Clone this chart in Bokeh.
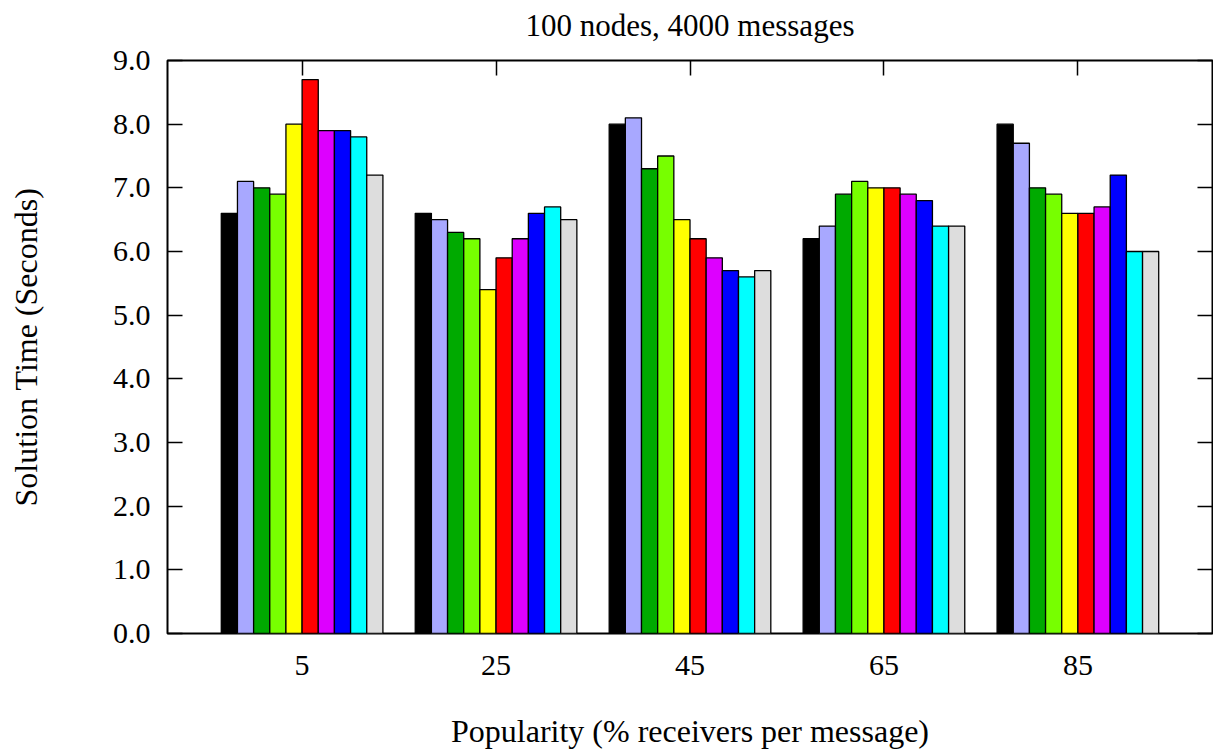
from bokeh.plotting import figure
from bokeh.models import LinearAxis, FixedTicker, PrintfTickFormatter, Range1d, ColumnDataSource
from bokeh.embed import file_html
from bokeh.resources import INLINE

# ---- data ----
title_text = "100 nodes, 4000 messages"
popularity = ["5", "25", "45", "65", "85"]
series_black = [6.6, 6.6, 8.0, 6.2, 8.0]
series_lavender = [7.1, 6.5, 8.1, 6.4, 7.7]
series_green = [7.0, 6.3, 7.3, 6.9, 7.0]
series_lime = [6.9, 6.2, 7.5, 7.1, 6.9]
series_yellow = [8.0, 5.4, 6.5, 7.0, 6.6]
series_red = [8.7, 5.9, 6.2, 7.0, 6.6]
series_magenta = [7.9, 6.2, 5.9, 6.9, 6.7]
series_blue = [7.9, 6.6, 5.7, 6.8, 7.2]
series_cyan = [7.8, 6.7, 5.6, 6.4, 6.0]
series_gray = [7.2, 6.5, 5.7, 6.4, 6.0]
y_ticks = [0, 1, 2, 3, 4, 5, 6, 7, 8, 9]

all_series = [series_black, series_lavender, series_green, series_lime, series_yellow,
              series_red, series_magenta, series_blue, series_cyan, series_gray]
colors = ["#000000", "#a8a8ff", "#00aa00", "#77ff00", "#ffff00",
          "#ff0000", "#dd00ff", "#0000ff", "#00ffff", "#dddddd"]

FONT = "Liberation Serif"
n = len(all_series)
gap = 2
bw = 1.0 / (n + gap)

p = figure(width=1213, height=751, output_backend="svg", toolbar_location=None,
           title=None,
           x_range=Range1d(-0.694, 4.694), y_range=Range1d(0, 9),
           min_border_left=167, min_border_right=1, min_border_top=60, min_border_bottom=118)
p.xgrid.visible = False
p.ygrid.visible = False
p.outline_line_color = "black"
p.outline_line_width = 2
p.background_fill_color = "white"
p.border_fill_color = "white"

for j, (vals, col) in enumerate(zip(all_series, colors)):
    xs = [i + (j - (n - 1) / 2) * bw for i in range(len(popularity))]
    src = ColumnDataSource(dict(x=xs, top=vals))
    p.vbar(x="x", top="top", bottom=0, width=bw, source=src,
           fill_color=col, line_color="black", line_width=1.3)

xt = FixedTicker(ticks=list(range(len(popularity))))
overrides = {i: lab for i, lab in enumerate(popularity)}

# bottom axis
xa = p.xaxis[0]
xa.ticker = xt
xa.major_label_overrides = overrides
xa.major_tick_in = 0
xa.major_tick_out = 0
xa.minor_tick_in = 0
xa.minor_tick_out = 0
xa.axis_line_color = None
xa.major_label_text_font = FONT
xa.major_label_text_font_size = "30px"
xa.major_label_text_color = "black"
xa.major_label_standoff = 22
xa.axis_label = "Popularity (% receivers per message)"
xa.axis_label_text_font = FONT
xa.axis_label_text_font_size = "32px"
xa.axis_label_text_font_style = "normal"
xa.axis_label_text_color = "black"
xa.axis_label_standoff = 35

# left axis
ya = p.yaxis[0]
ya.ticker = FixedTicker(ticks=y_ticks)
ya.formatter = PrintfTickFormatter(format="%.1f")
ya.major_tick_in = 15
ya.major_tick_out = 0
ya.major_tick_line_width = 1.5
ya.minor_tick_in = 0
ya.minor_tick_out = 0
ya.axis_line_color = None
ya.major_label_text_font = FONT
ya.major_label_text_font_size = "30px"
ya.major_label_text_color = "black"
ya.major_label_standoff = 17
ya.axis_label = "Solution Time (Seconds)"
ya.axis_label_text_font = FONT
ya.axis_label_text_font_size = "32px"
ya.axis_label_text_font_style = "normal"
ya.axis_label_text_color = "black"
ya.axis_label_standoff = 66

# right axis (mirror ticks, no labels)
ra = LinearAxis(ticker=FixedTicker(ticks=y_ticks))
ra.major_label_overrides = {t: "" for t in y_ticks}
ra.major_tick_in = 15
ra.major_tick_out = 0
ra.major_tick_line_width = 1.5
ra.minor_tick_in = 0
ra.minor_tick_out = 0
ra.axis_line_color = None
ra.major_label_standoff = 0
p.add_layout(ra, "right")

# top axis (mirror ticks, no labels) carrying the chart title
ta = LinearAxis(ticker=xt)
ta.major_label_overrides = {i: "" for i in range(len(popularity))}
ta.major_tick_in = 15
ta.major_tick_out = 0
ta.major_tick_line_width = 1.5
ta.minor_tick_in = 0
ta.minor_tick_out = 0
ta.axis_line_color = None
ta.major_label_standoff = 0
ta.axis_label = title_text
ta.axis_label_text_font = FONT
ta.axis_label_text_font_size = "31px"
ta.axis_label_text_font_style = "normal"
ta.axis_label_text_color = "black"
ta.axis_label_standoff = 18
p.add_layout(ta, "above")

open("out.html", "w").write(file_html(p, INLINE))
